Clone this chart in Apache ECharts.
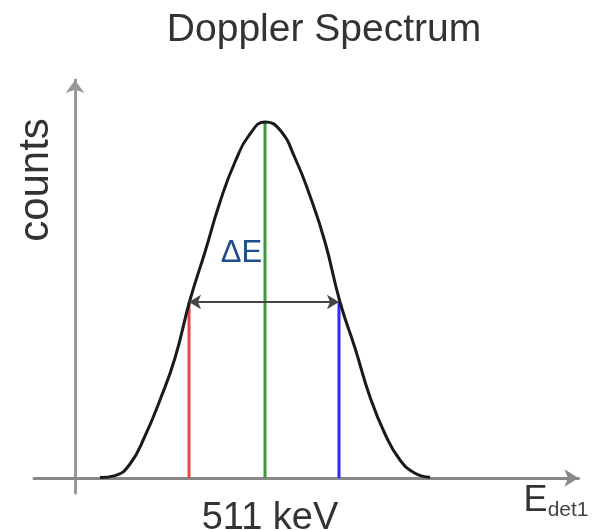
<!DOCTYPE html>
<html>
<head>
<meta charset="utf-8">
<script src="https://cdn.jsdelivr.net/npm/echarts@6/dist/echarts.min.js"></script>
<style>
  html, body { margin: 0; padding: 0; background: #fff; }
  #chart { width: 598px; height: 530px; }
</style>
</head>
<body>
<div id="chart"></div>
<script>
// energy axis in arbitrary channels, 0 = where the counts axis sits
const energy = [5, 8, 11, 14, 17, 20, 23, 26, 29, 32, 35, 38,
  41, 44, 47, 50, 53, 56, 59, 62, 65, 68, 71]
const counts = [0.1, 0.6, 3.5, 10.5, 19.5, 30, 44.5, 56.5, 69, 79, 86, 89,
  87, 80, 70.5, 59, 44, 32.5, 20.25, 11, 4.5, 1.2, 0.2]

const peakE = 38
const peakCounts = 89
const halfLowE = 22.8
const halfHighE = 52.8
const halfCounts = 44
const peakLabel = '511 keV'

const font = 'Liberation Sans, Arial, sans-serif'

const chart = echarts.init(document.getElementById('chart'), null, { renderer: 'canvas' })

const spectrum = energy.map((e, i) => [e, counts[i]])

chart.setOption({
  animation: false,
  title: {
    text: 'Doppler Spectrum',
    left: 319,
    top: 6,
    textAlign: 'center',
    textStyle: { fontFamily: font, fontSize: 39, fontWeight: 'normal', color: '#333' }
  },
  grid: { left: 34, right: 19.5, top: 80, bottom: 37, outerBoundsMode: 'none', containLabel: false },
  xAxis: {
    type: 'value',
    min: -8.2,
    max: 100.7,
    splitLine: { show: false },
    axisTick: { show: false },
    axisLine: {
      onZero: true,
      lineStyle: { color: '#888', width: 3 },
      symbol: ['none', 'arrow'],
      symbolSize: [13, 14]
    },
    axisLabel: {
      customValues: [peakE],
      formatter: () => peakLabel,
      margin: 7,
      padding: [0, 0, 0, 10],
      fontFamily: font,
      fontSize: 38,
      color: '#333'
    },
    name: 'E{sub|det1}',
    nameLocation: 'end',
    nameGap: 10,
    nameTextStyle: {
      align: 'right',
      verticalAlign: 'top',
      padding: [4, 0, 0, 0],
      fontFamily: font,
      fontSize: 36,
      color: '#333',
      rich: {
        sub: { fontFamily: font, fontSize: 21, color: '#444', padding: [18, 0, 0, 0] }
      }
    }
  },
  yAxis: {
    type: 'value',
    min: -3.75,
    max: 99.5,
    splitLine: { show: false },
    axisTick: { show: false },
    axisLabel: { show: false },
    axisLine: {
      onZero: true,
      lineStyle: { color: '#999', width: 3 },
      symbol: ['none', 'arrow'],
      symbolSize: [14, 13]
    }
  },
  graphic: [{
    type: 'text',
    x: 36,
    y: 180,
    rotation: Math.PI / 2,
    style: {
      text: 'counts',
      fontFamily: font,
      fontSize: 42,
      fill: '#333',
      align: 'center',
      verticalAlign: 'middle'
    }
  }],
  series: [
    {
      type: 'line',
      data: [[halfLowE, 0], [halfLowE, halfCounts]],
      symbol: 'none',
      lineStyle: { color: '#e84545', width: 3 },
      z: 2
    },
    {
      type: 'line',
      data: [[peakE, 0], [peakE, peakCounts]],
      symbol: 'none',
      lineStyle: { color: '#3a9a3a', width: 3 },
      z: 2
    },
    {
      type: 'line',
      data: [[halfHighE, 0], [halfHighE, halfCounts]],
      symbol: 'none',
      lineStyle: { color: '#2a2aff', width: 3 },
      z: 2
    },
    {
      type: 'line',
      data: spectrum,
      smooth: 0.5,
      symbol: 'none',
      lineStyle: { color: '#1a1a1a', width: 3 },
      z: 3,
      markLine: {
        silent: true,
        symbol: ['arrow', 'arrow'],
        symbolSize: [11, 12],
        lineStyle: { color: '#444', width: 2, type: 'solid' },
        label: { show: false },
        data: [[{ coord: [halfLowE, halfCounts] }, { coord: [halfHighE, halfCounts] }]]
      },
      markPoint: {
        silent: true,
        symbol: 'circle',
        symbolSize: 0,
        label: {
          show: true,
          position: 'inside',
          formatter: 'ΔE',
          fontFamily: font,
          fontSize: 31,
          color: '#1f4e8c'
        },
        data: [{ coord: [33.3, 56.25] }]
      }
    }
  ]
})
</script>
</body>
</html>
